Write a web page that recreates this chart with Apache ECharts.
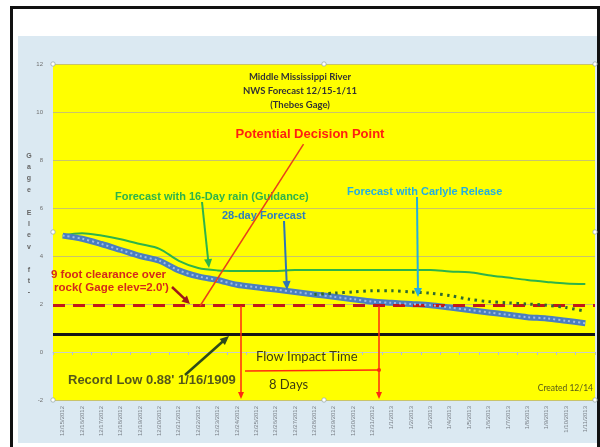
<!DOCTYPE html>
<html><head><meta charset="utf-8">
<script src="https://cdn.jsdelivr.net/npm/echarts@6/dist/echarts.min.js"></script>
<style>html,body{margin:0;padding:0;background:#fff}#c{width:600px;height:447px}</style>
</head><body><div id="c"></div>
<script>
const categories = ['12/15/2012','12/16/2012','12/17/2012','12/18/2012','12/19/2012','12/20/2012','12/21/2012','12/22/2012','12/23/2012','12/24/2012','12/25/2012','12/26/2012','12/27/2012','12/28/2012','12/29/2012','12/30/2012','12/31/2012','1/1/2013','1/2/2013','1/3/2013','1/4/2013','1/5/2013','1/6/2013','1/7/2013','1/8/2013','1/9/2013','1/10/2013','1/11/2013'];
const guidance16Day = [4.85,4.95,4.85,4.7,4.5,4.3,3.8,3.5,3.4,3.38,3.38,3.38,3.42,3.42,3.42,3.42,3.42,3.42,3.42,3.42,3.35,3.32,3.2,3.1,3.0,2.92,2.85,2.83];
const forecast28Day = [4.85,4.72,4.5,4.25,4.0,3.8,3.4,3.15,3.0,2.8,2.7,2.6,2.5,2.4,2.3,2.2,2.1,2.05,2.0,1.95,1.85,1.75,1.65,1.55,1.45,1.4,1.3,1.2];
const carlyleRelease = [null,null,null,null,null,null,null,null,null,null,null,null,null,2.4,2.45,2.5,2.55,2.55,2.5,2.45,2.35,2.2,2.1,2.05,2.0,1.95,1.85,1.7];
const clearanceLevel = 1.95;
const recordLowLevel = 0.75;
const yTicks = [-2,0,2,4,6,8,10,12];

function arrow(x1,y1,x2,y2,color,w,h,hw){
  const els=[];
  const dx=x2-x1, dy=y2-y1, L=Math.sqrt(dx*dx+dy*dy), ux=dx/L, uy=dy/L;
  const bx=x2-ux*h, by=y2-uy*h;
  els.push({type:'line',z:100,shape:{x1:x1,y1:y1,x2:bx+ux*1,y2:by+uy*1},style:{stroke:color,lineWidth:w}});
  if(h>0){
    els.push({type:'polygon',z:100,shape:{points:[[x2,y2],[bx-uy*hw,by+ux*hw],[bx+uy*hw,by-ux*hw]]},style:{fill:color}});
  }
  return els;
}
function txt(x,y,t,font,color,align){
  return {type:'text',z:100,x:x,y:y,style:{text:t,font:font,fill:color,align:align||'left',verticalAlign:'middle'}};
}
const B='bold ';
const AR='"Liberation Sans", Arial, sans-serif';
const graphics=[
  {type:'rect',z:-20,shape:{x:11.5,y:7.5,width:587,height:460},style:{fill:'#fff',stroke:'#111',lineWidth:3}},
  {type:'rect',z:-19,shape:{x:18,y:36,width:579,height:407},style:{fill:'#dbe9f2'}},
  txt(300,77,'Middle Mississippi River','bold 9.5px Lato, sans-serif','#333','center'),
  txt(300,91,'NWS Forecast 12/15-1/11','bold 9.5px Lato, sans-serif','#333','center'),
  txt(300,105,'(Thebes Gage)','bold 9.5px Lato, sans-serif','#333','center'),
  txt(310,134,'Potential Decision Point',B+'13px '+AR,'#ff2010','center'),
  txt(115,197,'Forecast with 16-Day rain (Guidance)',B+'11px '+AR,'#2db34a'),
  txt(222,216,'28-day Forecast',B+'11px '+AR,'#2e7fbf'),
  txt(347,192,'Forecast with Carlyle Release',B+'11px '+AR,'#23aee0'),
  txt(51,275,'9 foot clearance over',B+'11.5px '+AR,'#d42a1a'),
  txt(54,288,"rock( Gage elev=2.0')",B+'11.5px '+AR,'#d42a1a'),
  txt(68,380,"Record Low 0.88' 1/16/1909",B+'13px '+AR,'#55581a'),
  txt(256,357,'Flow Impact Time','13px Lato, sans-serif','#3d3c10'),
  txt(269,385,'8 Days','13px Lato, sans-serif','#3d3c10'),
  txt(593,388,'Created 12/14','8.5px Lato, sans-serif','#55581a','right'),
  {type:'text',z:100,x:29,y:224,style:{text:'G\na\ng\ne\n\nE\nl\ne\nv\n\nf\nt\n-',font:'bold 7px '+AR,fill:'#666',align:'center',verticalAlign:'middle',lineHeight:11.4}}
];
[].concat(
  arrow(200,306,303,145,'#e8401a',1.5,0,0),
  arrow(202,202,209,268,'#2db34a',2,9,4),
  arrow(284,221,287,290,'#2e75b6',2,9,4),
  arrow(417,197,418,297,'#23aee0',2,9,4),
  arrow(172,287,190,304,'#a01818',2.5,8,4),
  arrow(185,375,229,336,'#2e4a1a',2.5,9,4),
  arrow(241,306,241,399,'#ff2a10',1.5,7,3),
  arrow(379,306,379,399,'#ff2a10',1.5,7,3),
  arrow(245,371,379,370,'#ff2a10',1.5,0,0)
).forEach(e=>graphics.push(e));
graphics.push({type:'circle',z:100,shape:{cx:379,cy:370,r:2},style:{fill:'#ff2a10'}});
[[53,64],[324,64],[595,64],[53,232],[595,232],[53,400],[324,400],[595,400]].forEach(p=>{
  graphics.push({type:'circle',z:100,shape:{cx:p[0],cy:p[1],r:2.2},style:{fill:'#fff',stroke:'#9aa',lineWidth:0.8}});
});

const chart=echarts.init(document.getElementById('c'),null,{renderer:'canvas'});
chart.setOption({
  animation:false,
  backgroundColor:'#fff',
  grid:{left:53,right:5,top:64,bottom:47,show:true,backgroundColor:'#ffff00',borderWidth:0},
  xAxis:{type:'category',data:categories,boundaryGap:true,
    axisLine:{show:true,lineStyle:{color:'#c8d0c8',width:1}},
    axisTick:{show:true,length:3,lineStyle:{color:'#b8c0c8'}},
    axisLabel:{rotate:90,fontSize:6,color:'#7a8088',margin:6,fontFamily:AR,interval:0}},
  yAxis:{type:'value',min:-2,max:12,interval:2,
    axisLine:{show:false},axisTick:{show:false},
    splitLine:{show:true,lineStyle:{color:'#c9c46a',width:1}},
    axisLabel:{fontSize:6,color:'#707070',margin:10,fontFamily:AR}},
  graphic:graphics,
  series:[
    {name:'Guidance',type:'line',data:guidance16Day,smooth:0.3,symbol:'none',lineStyle:{color:'#2db34a',width:2},z:3},
    {name:'28-day',type:'line',data:forecast28Day,smooth:0.3,symbol:'none',lineStyle:{color:'#4a7ebf',width:6},z:4,
      markLine:{silent:true,symbol:'none',label:{show:false},data:[
        {yAxis:clearanceLevel,lineStyle:{color:'#c0181a',width:3,type:[12,8]}},
        {yAxis:recordLowLevel,lineStyle:{color:'#151515',width:3,type:'solid'}}
      ]}},
    {name:'28-day-pattern',type:'line',data:forecast28Day,smooth:0.3,symbol:'none',lineStyle:{color:'#9dbbe6',width:2,type:[2,3]},z:5},
    {name:'Carlyle',type:'line',data:carlyleRelease,smooth:0.3,symbol:'none',connectNulls:false,lineStyle:{color:'#2f6a2f',width:3,type:[2.5,4.5]},z:6}
  ]
});
</script></body></html>
